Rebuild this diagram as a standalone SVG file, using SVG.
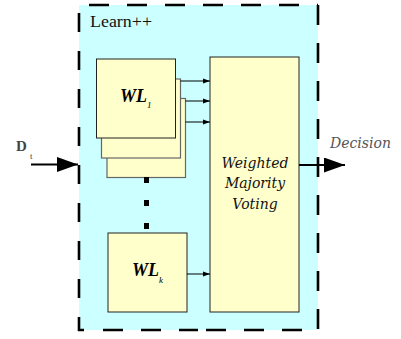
<svg xmlns="http://www.w3.org/2000/svg" width="401" height="339" viewBox="0 0 401 339">
  <defs>
    <marker id="small" markerWidth="7" markerHeight="6" refX="7" refY="3" orient="auto" markerUnits="userSpaceOnUse">
      <path d="M0,0.5 L7,3 L0,5.5 Z" fill="#000"/>
    </marker>
    <marker id="big" markerWidth="21" markerHeight="15" refX="21" refY="7.5" orient="auto" markerUnits="userSpaceOnUse">
      <path d="M0,0 L21,7.5 L0,15 Z" fill="#000"/>
    </marker>
  </defs>
  <style>
    .learner { fill: #ffffcc; stroke: #222; stroke-width: 1; }
    .back { fill: #ffffcc; stroke: #666; stroke-width: 1.2; }
    .border { stroke: #000; stroke-width: 2.6; fill: none; }
    .wire { stroke: #000; stroke-width: 1; fill: none; }
    .io { stroke: #000; stroke-width: 2; fill: none; }
    .wl { font-family: "Liberation Serif", serif; font-weight: bold; font-style: italic; font-size: 18px; fill: #000; }
    .sub { font-family: "Liberation Serif", serif; font-style: italic; font-size: 9px; fill: #000; }
    .ital { font-family: "DejaVu Serif", serif; font-style: italic; font-size: 14px; }
  </style>

  <!-- ensemble container -->
  <g id="learnpp">
    <rect x="79" y="5" width="239" height="325" fill="#ccffff"/>
    <line class="border" x1="89" y1="5" x2="318" y2="5" stroke-dasharray="20 18"/>
    <line class="border" x1="318" y1="5" x2="318" y2="330" stroke-dasharray="20 18"/>
    <line class="border" x1="79" y1="13" x2="79" y2="331" stroke-dasharray="19 19"/>
    <path class="border" d="M78,330 H84 M103,330 H123 M141,330 H161 M179,330 H198 M206,330 H226 M244,330 H264 M282,330 H302"/>
    <text x="90" y="27" font-family="Liberation Serif, serif" font-size="16" textLength="62" lengthAdjust="spacingAndGlyphs" fill="#111">Learn++</text>
  </g>

  <!-- stacked first weak learners -->
  <g id="wl1">
    <rect class="back" x="107" y="98.5" width="78.5" height="79"/>
    <rect class="back" x="101.5" y="79" width="79" height="79"/>
    <rect class="learner" x="96.5" y="59" width="79" height="79"/>
    <text class="wl" x="120" y="102">WL</text>
    <text class="sub" x="147" y="108">1</text>
  </g>

  <!-- ellipsis between learners -->
  <g id="ellipsis" fill="#000">
    <rect x="144" y="177" width="5" height="6"/>
    <rect x="144" y="200" width="5" height="6"/>
    <rect x="144" y="223" width="5" height="6"/>
  </g>

  <!-- last weak learner -->
  <g id="wlk">
    <rect class="learner" x="108" y="233" width="79" height="79"/>
    <text class="wl" x="132" y="276">WL</text>
    <text class="sub" x="159" y="283">k</text>
  </g>

  <!-- combiner -->
  <g id="voting">
    <rect class="learner" x="210" y="57" width="89" height="255"/>
    <g class="ital" fill="#111" text-anchor="middle">
      <text x="255" y="168">Weighted</text>
      <text x="255" y="188">Majority</text>
      <text x="255" y="209">Voting</text>
    </g>
  </g>

  <!-- input and output labels -->
  <g id="dt">
    <text x="16" y="151" font-family="Liberation Serif, serif" font-weight="bold" font-size="15" fill="#444">D</text>
    <text x="30" y="159" font-family="Liberation Serif, serif" font-size="9" fill="#444">t</text>
  </g>
  <g id="decision">
    <text class="ital" x="330" y="148" fill="#555">Decision</text>
  </g>

  <!-- connectors -->
  <g id="connectors">
    <line class="wire" x1="180.5" y1="81" x2="210" y2="81" marker-end="url(#small)"/>
    <line class="wire" x1="185.5" y1="101" x2="210" y2="101" marker-end="url(#small)"/>
    <line class="wire" x1="185.5" y1="122" x2="210" y2="122" marker-end="url(#small)"/>
    <line class="wire" x1="187" y1="274" x2="210" y2="274" marker-end="url(#small)"/>
    <line class="io" x1="31" y1="164.5" x2="78" y2="164.5" marker-end="url(#big)"/>
    <line class="io" x1="299" y1="165" x2="345" y2="165" marker-end="url(#big)"/>
  </g>
</svg>
